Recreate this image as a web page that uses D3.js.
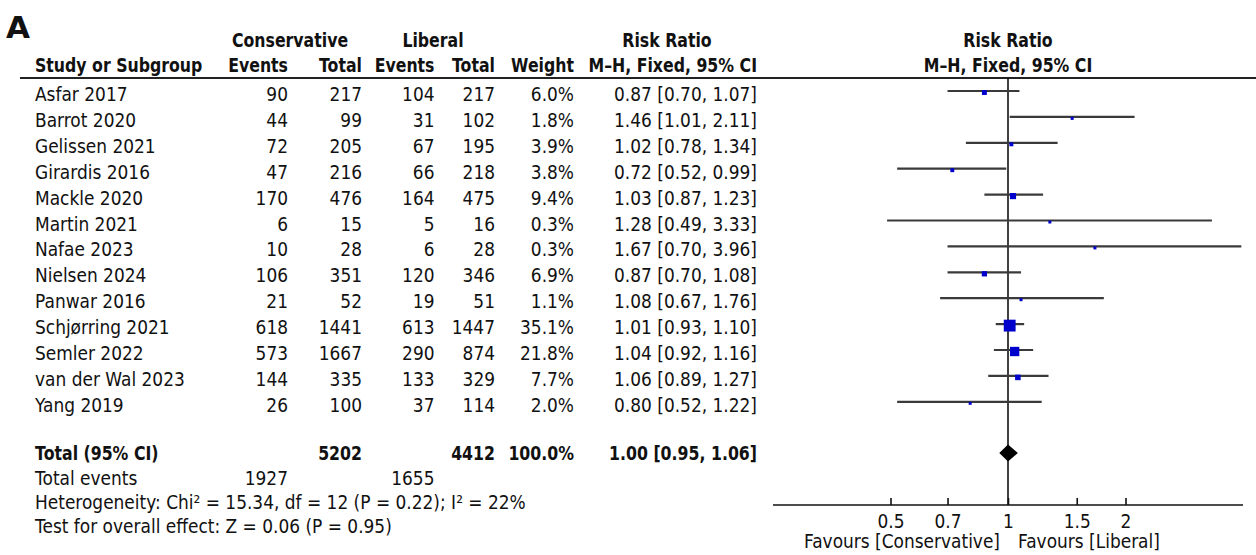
<!DOCTYPE html>
<html>
<head>
<meta charset="utf-8">
<script src="https://cdn.jsdelivr.net/npm/d3@7"></script>
<style>
  html, body { margin: 0; padding: 0; background: #fff; }
  svg { display: block; }
  text { font-family: "DejaVu Sans", sans-serif; fill: #111; }
</style>
</head>
<body>
<svg id="chart" width="1256" height="555"></svg>
<script>
// Study-level data
const studies = ["Asfar 2017", "Barrot 2020", "Gelissen 2021", "Girardis 2016", "Mackle 2020",
  "Martin 2021", "Nafae 2023", "Nielsen 2024", "Panwar 2016", "Schjørring 2021",
  "Semler 2022", "van der Wal 2023", "Yang 2019"];
const consEvents = [90, 44, 72, 47, 170, 6, 10, 106, 21, 618, 573, 144, 26];
const consTotal  = [217, 99, 205, 216, 476, 15, 28, 351, 52, 1441, 1667, 335, 100];
const libEvents  = [104, 31, 67, 66, 164, 5, 6, 120, 19, 613, 290, 133, 37];
const libTotal   = [217, 102, 195, 218, 475, 16, 28, 346, 51, 1447, 874, 329, 114];
const weights    = [6.0, 1.8, 3.9, 3.8, 9.4, 0.3, 0.3, 6.9, 1.1, 35.1, 21.8, 7.7, 2.0];
const riskRatio  = [0.87, 1.46, 1.02, 0.72, 1.03, 1.28, 1.67, 0.87, 1.08, 1.01, 1.04, 1.06, 0.80];
const ciLower    = [0.70, 1.01, 0.78, 0.52, 0.87, 0.49, 0.70, 0.70, 0.67, 0.93, 0.92, 0.89, 0.52];
const ciUpper    = [1.07, 2.11, 1.34, 0.99, 1.23, 3.33, 3.96, 1.08, 1.76, 1.10, 1.16, 1.27, 1.22];

// Pooled result
const pooled = { rr: 1.00, lo: 0.95, hi: 1.06, consTotal: 5202, libTotal: 4412, weight: "100.0%",
  consEvents: 1927, libEvents: 1655 };
const heterogeneityText = "Heterogeneity: Chi² = 15.34, df = 12 (P = 0.22); I² = 22%";
const overallText = "Test for overall effect: Z = 0.06 (P = 0.95)";

// Axis
const axisTicks = [0.5, 0.7, 1, 1.5, 2];
const axisTickLabels = ["0.5", "0.7", "1", "1.5", "2"];
const favoursLeft = "Favours [Conservative]";
const favoursRight = "Favours [Liberal]";

const svg = d3.select("#chart");
const fmt2 = d3.format(".2f");
const fmtW = d => d.toFixed(1) + "%";
const ciText = (r, l, h) => `${fmt2(r)} [${fmt2(l)}, ${fmt2(h)}]`;

// Layout
const col = { name: 35, cEv: 288, cTot: 362, lEv: 434.5, lTot: 495, weight: 574, rr: 757 };
const rowY = d3.scaleLinear().domain([0, 12]).range([91, 401.8]);
const x = d3.scaleLog().domain([0.25, 4]).range([773, 1243]);
const headerLineY = 78;
const axisY = 505;
const totalY = 453;

// Text in a tall, slightly narrow face: 19px glyphs squeezed horizontally
const FS = 19, SX_REG = 0.895, SX_BOLD = 0.83;
function label(parent, t, xx, yy, anchor, isBold) {
  return parent.append("text")
    .attr("transform", `translate(${xx},${yy}) scale(${isBold ? SX_BOLD : SX_REG},1)`)
    .attr("text-anchor", anchor || "start")
    .style("font-size", FS + "px")
    .style("font-weight", isBold ? "bold" : "normal")
    .text(t);
}

// Panel letter
svg.append("text").attr("x", 6).attr("y", 38)
  .style("font-size", "31px").style("font-weight", "bold").text("A");

// Column headers
const hdr1 = 47, hdr2 = 72;
label(svg, "Conservative", 290, hdr1, "middle", true);
label(svg, "Liberal", 433, hdr1, "middle", true);
label(svg, "Risk Ratio", 667, hdr1, "middle", true);
label(svg, "Risk Ratio", x(1), hdr1, "middle", true);
label(svg, "Study or Subgroup", col.name, hdr2, "start", true);
label(svg, "Events", col.cEv, hdr2, "end", true);
label(svg, "Total", col.cTot, hdr2, "end", true);
label(svg, "Events", col.lEv, hdr2, "end", true);
label(svg, "Total", col.lTot, hdr2, "end", true);
label(svg, "Weight", col.weight, hdr2, "end", true);
label(svg, "M\u2013H, Fixed, 95% CI", col.rr, hdr2, "end", true);
label(svg, "M\u2013H, Fixed, 95% CI", x(1), hdr2, "middle", true);

svg.append("line").attr("x1", 20).attr("x2", 1256)
  .attr("y1", headerLineY).attr("y2", headerLineY)
  .attr("stroke", "#222").attr("stroke-width", 2);

// Study rows
const rowsG = svg.append("g");
studies.forEach((s, i) => {
  const yy = rowY(i) + 10;
  label(rowsG, s, col.name, yy, "start");
  label(rowsG, consEvents[i], col.cEv, yy, "end");
  label(rowsG, consTotal[i], col.cTot, yy, "end");
  label(rowsG, libEvents[i], col.lEv, yy, "end");
  label(rowsG, libTotal[i], col.lTot, yy, "end");
  label(rowsG, fmtW(weights[i]), col.weight, yy, "end");
  label(rowsG, ciText(riskRatio[i], ciLower[i], ciUpper[i]), col.rr, yy, "end");
});

// Line of no effect
svg.append("line").attr("x1", x(1)).attr("x2", x(1))
  .attr("y1", headerLineY).attr("y2", axisY)
  .attr("stroke", "#111").attr("stroke-width", 1.6);

// Confidence intervals and weighted squares
const plot = svg.append("g");
plot.selectAll("line.ci").data(studies).join("line").attr("class", "ci")
  .attr("x1", (d, i) => x(ciLower[i])).attr("x2", (d, i) => x(ciUpper[i]))
  .attr("y1", (d, i) => rowY(i)).attr("y2", (d, i) => rowY(i))
  .attr("stroke", "#3a3a3a").attr("stroke-width", 2.2);
const side = w => Math.max(3, 2 * Math.sqrt(w));
plot.selectAll("rect.sq").data(studies).join("rect").attr("class", "sq")
  .attr("x", (d, i) => x(riskRatio[i]) - side(weights[i]) / 2)
  .attr("y", (d, i) => rowY(i) + 1.5 - side(weights[i]) / 2)
  .attr("width", (d, i) => side(weights[i]))
  .attr("height", (d, i) => side(weights[i]))
  .attr("fill", "#0000cc");

// Pooled row
const tb = totalY + 7;
label(svg, "Total (95% CI)", col.name, tb, "start", true);
label(svg, pooled.consTotal, col.cTot, tb, "end", true);
label(svg, pooled.libTotal, col.lTot, tb, "end", true);
label(svg, pooled.weight, col.weight, tb, "end", true);
label(svg, ciText(pooled.rr, pooled.lo, pooled.hi), col.rr, tb, "end", true);

svg.append("path")
  .attr("d", `M${x(pooled.lo)},${totalY} L${x(pooled.rr)},${totalY - 8.5} L${x(pooled.hi)},${totalY} L${x(pooled.rr)},${totalY + 8.5} Z`)
  .attr("fill", "#000");

// Footer lines
label(svg, "Total events", col.name, 485);
label(svg, pooled.consEvents, col.cEv, 485, "end");
label(svg, pooled.libEvents, col.lEv, 485, "end");
label(svg, heterogeneityText, col.name, 509);
label(svg, overallText, col.name, 533);

// Risk ratio axis
const axis = d3.axisBottom(x).tickValues(axisTicks)
  .tickFormat((d, i) => axisTickLabels[i]).tickSize(0).tickPadding(0);
const ax = svg.append("g").attr("transform", `translate(0,${axisY})`).call(axis);
ax.select(".domain").remove();
ax.append("line").attr("x1", x.range()[0]).attr("x2", x.range()[1])
  .attr("stroke", "#111").attr("stroke-width", 1.6);
ax.selectAll(".tick line").attr("y1", -7).attr("y2", 0).attr("stroke", "#111").attr("stroke-width", 1.6);
ax.selectAll(".tick text").attr("y", 23).attr("dy", null)
  .attr("transform", `scale(${SX_REG},1)`)
  .attr("x", 0)
  .style("font-size", FS + "px").style("font-family", "DejaVu Sans, sans-serif").attr("fill", "#111");

label(svg, favoursLeft, x(1) - 8, 548, "end");
label(svg, favoursRight, x(1) + 10, 548, "start");
</script>
</body>
</html>
